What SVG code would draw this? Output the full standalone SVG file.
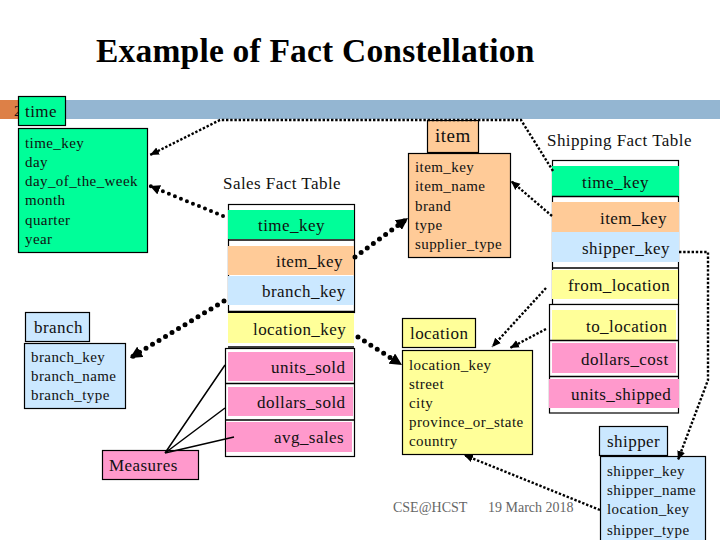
<svg xmlns="http://www.w3.org/2000/svg" width="720" height="540" viewBox="0 0 720 540">
<defs>
<marker id="ah" markerUnits="userSpaceOnUse" markerWidth="14" markerHeight="12" refX="12" refY="6" orient="auto"><path d="M0 0L12 6L0 12Z" fill="#000"/></marker>
<marker id="am" markerUnits="userSpaceOnUse" markerWidth="11" markerHeight="10" refX="10" refY="5" orient="auto"><path d="M0 0L10 5L0 10Z" fill="#000"/></marker>
<marker id="al" markerUnits="userSpaceOnUse" markerWidth="10" markerHeight="10" refX="9" refY="5" orient="auto"><path d="M0 1L9 5L0 9Z" fill="#000"/></marker>
</defs>
<style>
text{font-family:"Liberation Serif","Times New Roman",serif;font-size:15px;letter-spacing:.42px;fill:#111}
.h{font-size:17px;letter-spacing:.45px}
.b{stroke:#000;stroke-width:1.2}
.g{fill:#00fe99}.o{fill:#ffcb98}.l{fill:#cbe8ff}.y{fill:#ffff99}.p{fill:#ff99cc}
.t{fill:#fff;stroke:#000;stroke-width:1.2}
.sep{stroke:#000;stroke-width:1.5;fill:none}
.thin{fill:none;stroke:#000;stroke-width:2.4;stroke-dasharray:2.4 1.8;marker-end:url(#al)}
.thick{fill:none;stroke:#000;stroke-width:5;stroke-linecap:round;stroke-dasharray:0 7.6;marker-end:url(#ah)}
.mid{fill:none;stroke:#000;stroke-width:4;stroke-linecap:round;stroke-dasharray:0 6.5;marker-end:url(#am)}
.sol{fill:none;stroke:#000;stroke-width:1.5}
</style>
<rect width="720" height="540" fill="#fff"/>
<text id="title" x="96" y="62" style="font-size:33.500px;font-weight:bold;letter-spacing:.2px;fill:#000">Example of Fact Constellation</text>
<rect x="0" y="100" width="20" height="19" fill="#dd8047"/>
<rect x="20" y="100" width="700" height="19" fill="#94b6d2"/>
<text x="14" y="116">2</text>

<g id="time"><rect class="b g" x="18.5" y="96.5" width="47" height="29"/><text class="h" x="25" y="117">time</text>
<rect class="b g" x="18.5" y="128.500" width="129" height="124"/>
<text x="25" y="148">time_key</text><text x="25" y="167">day</text><text x="25" y="186">day_of_the_week</text><text x="25" y="205">month</text><text x="25" y="225">quarter</text><text x="25" y="244">year</text></g>

<g id="item"><rect class="b o" x="427.5" y="120.5" width="51" height="32"/><text x="435" y="142" style="font-size:19px;letter-spacing:.5px">item</text>
<rect class="b o" x="408.5" y="153.5" width="102" height="104"/>
<text x="415" y="172">item_key</text><text x="415" y="191">item_name</text><text x="415" y="211">brand</text><text x="415" y="230">type</text><text x="415" y="249">supplier_type</text></g>

<g id="branch"><rect class="b l" x="25.5" y="312.5" width="64" height="29"/><text class="h" x="34" y="333">branch</text>
<rect class="b l" x="24.5" y="343.5" width="101" height="65"/>
<text x="31" y="362">branch_key</text><text x="31" y="381">branch_name</text><text x="31" y="400">branch_type</text></g>

<g id="location"><rect class="b y" x="402.5" y="318.5" width="73" height="29"/><text class="h" x="410" y="339">location</text>
<rect class="b y" x="402.5" y="350.5" width="130" height="104"/>
<text x="409" y="370">location_key</text><text x="409" y="389">street</text><text x="409" y="408">city</text><text x="409" y="427">province_or_state</text><text x="409" y="446">country</text></g>

<g id="shipper"><rect class="b l" x="599.5" y="426.5" width="68" height="29"/><text class="h" x="607" y="447">shipper</text>
<rect class="b l" x="600.5" y="456.5" width="105" height="90"/>
<text x="607" y="476">shipper_key</text><text x="607" y="495">shipper_name</text><text x="607" y="514">location_key</text><text x="607" y="535">shipper_type</text></g>

<g id="measures"><rect class="b p" x="102.5" y="450.5" width="96" height="29"/><text class="h" x="109" y="471">Measures</text></g>

<g id="sales-fact-table">
<text class="h" x="223" y="189">Sales Fact Table</text>
<rect class="t" x="228.5" y="204.5" width="126" height="108"/>
<rect class="t" x="225.5" y="348.5" width="129" height="108"/>
<rect class="g" x="228" y="210" width="126" height="29"/>
<rect class="o" x="228" y="246" width="126" height="29"/>
<rect class="l" x="228" y="276" width="126" height="29"/>
<rect class="y" x="228" y="313" width="126" height="30"/>
<rect class="p" x="228" y="352" width="125" height="29"/>
<rect class="p" x="228" y="387" width="125" height="29"/>
<rect class="p" x="226" y="422" width="126" height="30"/>
<path class="sep" d="M228 240H354M228 311.500H354M228 347H354M226 383.500H354M226 420H354"/>
<text class="h" x="258" y="231">time_key</text><text class="h" x="276" y="267">item_key</text><text class="h" x="262" y="297">branch_key</text><text class="h" x="253" y="335">location_key</text><text class="h" x="271" y="373">units_sold</text><text class="h" x="257" y="408">dollars_sold</text><text class="h" x="274" y="443">avg_sales</text>
</g>

<g id="shipping-fact-table">
<text class="h" x="547" y="146">Shipping Fact Table</text>
<rect class="t" x="552.5" y="160.500" width="126" height="144"/>
<rect class="t" x="549.5" y="304.500" width="129" height="108.500"/>
<rect class="g" x="552" y="166" width="127" height="30"/>
<rect class="o" x="552" y="202" width="127" height="30"/>
<rect class="l" x="552" y="232" width="127" height="30"/>
<rect class="y" x="552" y="270" width="126" height="29"/>
<rect class="y" x="552" y="310" width="124" height="30"/>
<rect class="p" x="552" y="343" width="124" height="30"/>
<rect class="p" x="549" y="379" width="130" height="29"/>
<path class="sep" d="M552 196.500H678M552 268H678M549 340.500H678M549 376.500H678"/>
<text class="h" x="582" y="188">time_key</text><text class="h" x="600" y="224">item_key</text><text class="h" x="582" y="254">shipper_key</text><text class="h" x="568" y="291">from_location</text><text class="h" x="586" y="332">to_location</text><text class="h" x="581" y="365">dollars_cost</text><text class="h" x="571" y="400">units_shipped</text>
</g>

<g id="footer"><text x="393" y="512" style="font-size:14px;letter-spacing:0;fill:#666">CSE@HCST</text><text x="488" y="512" style="font-size:14px;letter-spacing:0;fill:#666">19 March 2018</text></g>

<g id="connectors">
<path class="thin" d="M553 171L521 120H220L150 155"/>
<path class="thin" d="M552 216L511 181"/>
<path class="thin" d="M679 252H708V380L678 460"/>
<path class="thin" d="M546 288L492 347"/>
<path class="thin" d="M546 329L510 348"/>
<path class="thin" d="M600 510L464 455"/>
<path class="mid" d="M223 216L150 186"/>
<path class="thick" d="M355 257L408 218"/>
<path class="thick" d="M224 301L130 358"/>
<path class="thick" d="M358 337L402 365"/>
<path class="sol" d="M225 365L165 453L225 408M165 453L234 437"/>
</g>
</svg>
